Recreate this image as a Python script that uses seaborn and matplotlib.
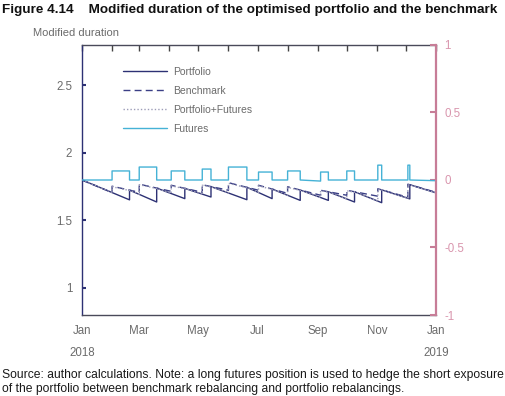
import pandas as pd
import matplotlib
matplotlib.use("Agg")
import matplotlib.pyplot as plt
import matplotlib.dates as mdates
import seaborn as sns

# --- data (day offsets from 1 Jan 2018) ---
port_days = [0, 49, 49, 77, 77, 106, 106, 133, 133, 170, 170, 196, 196, 225, 225, 254, 254, 281, 281, 309, 309, 338, 338, 365]
port_vals = [1.80, 1.653, 1.725, 1.637, 1.740, 1.662, 1.738, 1.674, 1.751, 1.654, 1.746, 1.662,
             1.733, 1.649, 1.726, 1.649, 1.713, 1.637, 1.713, 1.632, 1.727, 1.660, 1.765, 1.705]

bench_days = [0, 31, 31, 59, 59, 92, 92, 124, 124, 151, 151, 182, 182, 212, 212, 246, 246, 273, 273, 305, 305, 336, 336, 365]
bench_vals = [1.80, 1.707, 1.754, 1.709, 1.769, 1.716, 1.761, 1.709, 1.765, 1.724, 1.780, 1.724,
              1.761, 1.701, 1.750, 1.687, 1.724, 1.687, 1.724, 1.680, 1.735, 1.672, 1.769, 1.709]

gap_days = [0, 31, 31, 49, 49, 59, 59, 77, 77, 92, 92, 106, 106, 124, 124, 133, 133, 151, 151, 170, 170, 182, 182,
            196, 196, 212, 212, 225, 225, 246, 246, 254, 254, 273, 273, 281, 281, 305, 305, 309, 309, 336, 336, 338, 338, 365]
pf_vals = [1.80, 1.707, 1.750, 1.722, 1.725, 1.694, 1.765, 1.737, 1.740, 1.700, 1.757, 1.735, 1.738, 1.695, 1.761, 1.748,
           1.751, 1.704, 1.776, 1.742, 1.746, 1.707, 1.757, 1.730, 1.733, 1.687, 1.746, 1.723, 1.726, 1.670, 1.720, 1.710,
           1.713, 1.660, 1.720, 1.710, 1.713, 1.644, 1.731, 1.724, 1.727, 1.665, 1.765, 1.762, 1.765, 1.705]
fut_vals = [0, 0, 0.067, 0.067, 0, 0, 0.096, 0.096, 0, 0, 0.067, 0.067, 0, 0, 0.081, 0.081, 0, 0, 0.096, 0.096, 0, 0,
            0.059, 0.059, 0, 0, 0.067, 0.067, 0, -0.008, 0.059, 0.059, 0, 0, 0.067, 0.067, 0, 0, 0.11, 0.11, 0, 0,
            0.11, 0.11, 0, -0.005]

left_ticks = [1, 1.5, 2, 2.5]
right_ticks = [-1, -0.5, 0, 0.5, 1]

start = pd.Timestamp("2018-01-01")
end = pd.Timestamp("2019-01-01")


def to_dates(days):
    return start + pd.to_timedelta(days, unit="D")


navy = "#2d3174"
pink = "#c77d97"
pink_txt = "#d995ad"
grey_txt = "#6b6b6b"

sns.set_style("white")
plt.rcParams["font.family"] = ["Liberation Sans", "DejaVu Sans"]

fig = plt.figure(figsize=(5.05, 3.96), dpi=100)
ax = fig.add_axes([82 / 505, 1 - 315 / 396, 354 / 505, 270 / 396])
ax2 = ax.twinx()

sns.lineplot(x=to_dates(port_days), y=port_vals, ax=ax, color=navy, lw=1.0,
             estimator=None, sort=False, label="Portfolio")
sns.lineplot(x=to_dates(bench_days), y=bench_vals, ax=ax, color="#3b3f86", lw=1.0,
             estimator=None, sort=False, label="Benchmark", dashes=False, linestyle=(0, (5, 3)))
sns.lineplot(x=to_dates(gap_days), y=pf_vals, ax=ax, color="#9d9db8", lw=1.0,
             estimator=None, sort=False, label="Portfolio+Futures", linestyle=(0, (1, 1.5)))
sns.lineplot(x=to_dates(gap_days), y=fut_vals, ax=ax2, color="#45b2d6", lw=1.0,
             estimator=None, sort=False, label="Futures")

ax.set_xlim(start, end)
ax.set_ylim(0.8, 2.8)
ax2.set_ylim(-1, 1)

ax.set_yticks(left_ticks)
ax.set_yticklabels(["1", "1.5", "2", "2.5"])
ax2.set_yticks(right_ticks)
ax2.set_yticklabels(["-1", "-0.5", "0", "0.5", "1"])

ax.xaxis.set_major_locator(mdates.MonthLocator())
ax.xaxis.set_major_formatter(plt.FuncFormatter(
    lambda v, p: mdates.num2date(v).strftime("%b") if mdates.num2date(v).month % 2 == 1 else ""))

ax.set_xlabel("")
ax.set_ylabel("")
ax2.set_ylabel("")

ax.tick_params(axis="x", direction="in", top=True, length=4, width=1, color="#444444",
               labelsize=8.3, labelcolor=grey_txt, pad=14)
ax.tick_params(axis="y", direction="in", length=3, width=1.5, color=navy,
               labelsize=8.3, labelcolor=grey_txt, pad=7)
ax2.tick_params(axis="y", direction="in", length=4, width=1.5, color=pink,
                labelsize=8.3, labelcolor=pink_txt, pad=6)
for lab in ax.get_xticklabels():
    lab.set_verticalalignment("baseline")

for s in ["top", "bottom"]:
    ax.spines[s].set_color("#4a4a5a")
    ax.spines[s].set_linewidth(1.0)
ax.spines["left"].set_color(navy)
ax.spines["left"].set_linewidth(1.0)
ax2.spines["right"].set_color(pink)
ax2.spines["right"].set_linewidth(1.6)
ax2.spines["left"].set_visible(False)
ax2.spines["top"].set_visible(False)
ax2.spines["bottom"].set_visible(False)
ax.spines["right"].set_visible(False)

# year labels under first / last Jan
ax.text(start, -0.14, "2018", transform=ax.get_xaxis_transform(), ha="center", va="center",
        fontsize=8.3, color=grey_txt)
ax.text(end, -0.14, "2019", transform=ax.get_xaxis_transform(), ha="center", va="center",
        fontsize=8.3, color=grey_txt)

# legend
h1, l1 = ax.get_legend_handles_labels()
h2, l2 = ax2.get_legend_handles_labels()
if ax.get_legend() is not None:
    ax.get_legend().remove()
ax2.legend(h1 + h2, l1 + l2, loc="upper left", bbox_to_anchor=(0.089, 0.953), frameon=False,
           fontsize=7.5, handlelength=4.2, labelspacing=0.85, handletextpad=0.6,
           labelcolor=grey_txt)

fig.text(0.004, 0.975, "Figure 4.14    Modified duration of the optimised portfolio and the benchmark",
         fontsize=9.7, fontweight="bold", ha="left", va="center", color="#111111")
fig.text(33 / 505, 1 - 33 / 396, "Modified duration", fontsize=8, ha="left", va="center", color=grey_txt)
fig.text(0.004, 1 - 375 / 396, "Source: author calculations. Note: a long futures position is used to hedge the short exposure",
         fontsize=8.7, ha="left", va="center", color="#1a1a1a")
fig.text(0.004, 1 - 389 / 396, "of the portfolio between benchmark rebalancing and portfolio rebalancings.",
         fontsize=8.7, ha="left", va="center", color="#1a1a1a")

fig.savefig("out.png", dpi=100)
